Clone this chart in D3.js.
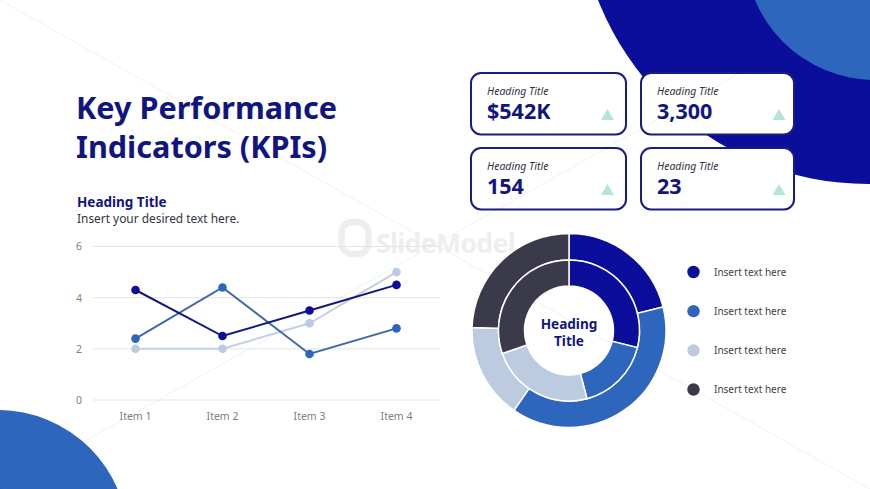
<!DOCTYPE html>
<html>
<head>
<meta charset="utf-8">
<script src="https://cdn.jsdelivr.net/npm/d3@7"></script>
<style>
  html, body { margin: 0; padding: 0; background: #fff; overflow: hidden; }
  text { font-family: "Noto Sans", sans-serif; }
</style>
</head>
<body>
<div class="container"></div>
<script>
const items = ["Item 1", "Item 2", "Item 3", "Item 4"];
const yTicks = [0, 2, 4, 6];
const seriesNavy = [4.3, 2.5, 3.5, 4.5];
const seriesBlue = [2.4, 4.4, 1.8, 2.8];
const seriesLight = [2, 2, 3, 5];

const outerRing = [21.1, 38.5, 15.9, 24.5];
const innerRing = [28.9, 17.0, 23.8, 30.3];
const legendLabels = ["Insert text here", "Insert text here", "Insert text here", "Insert text here"];

const cardTitles = ["Heading Title", "Heading Title", "Heading Title", "Heading Title"];
const cardValues = ["$542K", "3,300", "154", "23"];

const navy = "#0a0e9a";
const blue = "#2f66bd";
const light = "#bccbe0";
const dark = "#3b3a4a";
const textNavy = "#10157f";

let svg = d3.select(".container")
  .append("svg")
  .attr("width", 870)
  .attr("height", 489)
  .style("display", "block");

// background shapes
svg.append("circle").attr("cx", 868).attr("cy", -106).attr("r", 290).attr("fill", navy);
svg.append("circle").attr("cx", 875).attr("cy", -50).attr("r", 130).attr("fill", blue);
svg.append("circle").attr("cx", -2).attr("cy", 540).attr("r", 130).attr("fill", blue);

// cards
const cardX = [471, 641];
const cardY = [73, 148];
let cards = svg.append("g").attr("class", "cards");
cardValues.forEach((v, i) => {
  let x = cardX[i % 2];
  let y = cardY[Math.floor(i / 2)];
  let w = i % 2 ? 153 : 155;
  let tri = 130 + (i % 2) * 1.5;
  let card = cards.append("g").attr("transform", `translate(${x},${y})`);
  card.append("rect")
    .attr("width", w)
    .attr("height", 61.5)
    .attr("rx", 10)
    .attr("fill", "#fff")
    .attr("stroke", "#1a1c80")
    .attr("stroke-width", 2);
  card.append("text")
    .attr("x", 16)
    .attr("y", 21.5)
    .attr("font-size", 10.5)
    .attr("font-style", "italic")
    .attr("fill", "#33333f")
    .text(cardTitles[i]);
  card.append("text")
    .attr("x", 16)
    .attr("y", 46)
    .attr("font-size", 21.5)
    .attr("font-weight", 700)
    .attr("fill", textNavy)
    .text(v);
  card.append("path")
    .attr("d", `M ${tri} 47 L ${tri + 13} 47 L ${tri + 6.5} 36 Z`)
    .attr("fill", "#b5e6d3");
});

// faint diagonals and watermark
let wm = svg.append("g").attr("class", "watermark");
wm.append("line").attr("x1", 0).attr("y1", 0).attr("x2", 870).attr("y2", 489)
  .attr("stroke", "#000").attr("stroke-opacity", 0.06);
wm.append("line").attr("x1", 0).attr("y1", 489).attr("x2", 870).attr("y2", 0)
  .attr("stroke", "#000").attr("stroke-opacity", 0.06);
wm.append("rect")
  .attr("x", 341.5).attr("y", 222).attr("width", 27).attr("height", 32).attr("rx", 11)
  .attr("fill", "none").attr("stroke", "#eeeeee").attr("stroke-width", 6.5);
wm.append("text")
  .attr("x", 376).attr("y", 253)
  .attr("font-size", 26.5).attr("font-weight", 700)
  .attr("letter-spacing", -0.6)
  .attr("fill", "#eeeeee")
  .text("SlideModel");

// title block
svg.append("text").attr("x", 76).attr("y", 119)
  .attr("font-size", 30.6).attr("font-weight", 700).attr("fill", textNavy)
  .text("Key Performance");
svg.append("text").attr("x", 76).attr("y", 158)
  .attr("font-size", 30.6).attr("font-weight", 700).attr("fill", textNavy)
  .text("Indicators (KPIs)");
svg.append("text").attr("x", 77).attr("y", 207)
  .attr("font-size", 13.5).attr("font-weight", 700).attr("fill", textNavy)
  .text("Heading Title");
svg.append("text").attr("x", 77).attr("y", 223)
  .attr("font-size", 11.9).attr("fill", "#33333f")
  .text("Insert your desired text here.");

// line chart
let x = d3.scaleBand().domain(items).range([92, 440]);
let y = d3.scaleLinear().domain([0, 6]).range([400, 246.5]);

let grid = svg.append("g").attr("class", "grid");
grid.selectAll("line").data(yTicks).join("line")
  .attr("x1", 93)
  .attr("x2", 440)
  .attr("y1", d => y(d))
  .attr("y2", d => y(d))
  .attr("stroke", "#e4e4e8");

let yAxis = svg.append("g")
  .attr("transform", "translate(82,0)")
  .call(d3.axisLeft(y).tickValues(yTicks).tickFormat(d3.format("d")).tickSize(0).tickPadding(0));
let xAxis = svg.append("g")
  .attr("transform", "translate(0,400)")
  .call(d3.axisBottom(x).tickSize(0).tickPadding(13));
yAxis.select(".domain").remove();
xAxis.select(".domain").remove();
svg.selectAll(".tick text")
  .attr("font-family", "\"Noto Sans\", sans-serif")
  .attr("font-size", 10.5)
  .attr("fill", "#808080");

let line = d3.line()
  .x((d, i) => x(items[i]) + x.bandwidth() / 2)
  .y(d => y(d));

const lineSeries = [
  { values: seriesLight, stroke: "#c3cfe2", dot: light },
  { values: seriesBlue, stroke: "#3f6aa8", dot: blue },
  { values: seriesNavy, stroke: "#14167f", dot: navy }
];
lineSeries.forEach(s => {
  svg.append("path")
    .attr("d", line(s.values))
    .attr("fill", "none")
    .attr("stroke", s.stroke)
    .attr("stroke-width", 2);
  svg.append("g").selectAll("circle").data(s.values).join("circle")
    .attr("cx", (d, i) => x(items[i]) + x.bandwidth() / 2)
    .attr("cy", d => y(d))
    .attr("r", 4.3)
    .attr("fill", s.dot);
});

// double donut
const ringColors = [navy, blue, light, dark];
let pie = d3.pie().sort(null);
let donut = svg.append("g").attr("transform", "translate(569,330.5)");
function drawRing(values, inner, outer) {
  let arc = d3.arc().innerRadius(inner).outerRadius(outer);
  donut.append("g").selectAll("path").data(pie(values)).join("path")
    .attr("d", arc)
    .attr("fill", (d, i) => ringColors[i])
    .attr("stroke", "#fff")
    .attr("stroke-width", 1.5);
}
drawRing(outerRing, 70.5, 97);
drawRing(innerRing, 44.5, 70.5);

donut.append("text")
  .attr("text-anchor", "middle").attr("y", -2)
  .attr("font-size", 13.6).attr("font-weight", 700).attr("fill", textNavy)
  .text("Heading");
donut.append("text")
  .attr("text-anchor", "middle").attr("y", 15.5)
  .attr("font-size", 13.6).attr("font-weight", 700).attr("fill", textNavy)
  .text("Title");

// legend
let legendY = d3.scalePoint().domain(d3.range(4)).range([272, 389.5]);
let legend = svg.append("g").selectAll("g").data(legendLabels).join("g")
  .attr("transform", (d, i) => `translate(693.5,${legendY(i)})`);
legend.append("circle")
  .attr("r", 6.2)
  .attr("fill", (d, i) => ringColors[i]);
legend.append("text")
  .attr("x", 20.5)
  .attr("y", 3.6)
  .attr("font-size", 10)
  .attr("fill", "#40404a")
  .text(d => d);
</script>
</body>
</html>
